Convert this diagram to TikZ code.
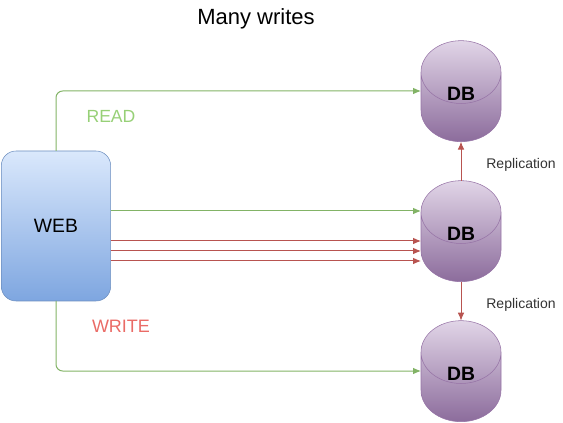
\documentclass[tikz,border=0pt]{standalone}
\usepackage{fontspec}
\setmainfont{Liberation Sans}
\usetikzlibrary{shapes.geometric, arrows.meta, positioning}
\definecolor{readcol}{HTML}{82B366}
\definecolor{writecol}{HTML}{B85450}
\definecolor{readtext}{HTML}{97D077}
\definecolor{writetext}{HTML}{EA6B66}
\definecolor{webline}{HTML}{6C8EBF}
\definecolor{webtop}{HTML}{DAE8FC}
\definecolor{webbot}{HTML}{7EA6E0}
\definecolor{dbline}{HTML}{9673A6}
\definecolor{dbtop}{HTML}{E1D5E7}
\definecolor{dbbot}{HTML}{8C6C9C}
\newcommand{\dbname}{\raisebox{4.75pt}[0pt][0pt]{DB}}

\begin{document}
\begin{tikzpicture}[x=0.75pt, y=-0.75pt, >={Latex[length=6pt,width=5pt]}, node distance=105pt]
	\tikzstyle{web} = [draw=webline, rounded corners=11pt, minimum width=82pt, minimum height=112.5pt, inner sep=0pt, outer sep=0pt, top color=webtop, bottom color=webbot, font=\fontsize{14.5}{16}\selectfont]
	\tikzstyle{db} = [draw=dbline, cylinder, shape border rotate=90, aspect=2.25, minimum width=60pt, minimum height=75.75pt, inner sep=0pt, outer sep=0pt, top color=dbtop, bottom color=dbbot, font=\fontsize{14.5}{16}\selectfont\bfseries]
	\tikzstyle{rlabel} = [text=black!80, font=\fontsize{10.5}{12}\selectfont]

	\useasboundingbox (0,0) rectangle (563,423);

	\path
		node[web] (web) at (56,226) {WEB}
		node[db] (db2) at (461,247) {\dbname}
		node[db, above of=db2] (db1) {\dbname}
		node[db, below of=db2] (db3) {\dbname}

		node (title) at (256,19) {\fontsize{16.5}{18}\selectfont Many writes}
		node[text=readtext] (read) at (111,116) {\fontsize{13.2}{15}\selectfont READ}
		node[text=writetext] (write) at (121,326) {\fontsize{13.5}{15}\selectfont WRITE}
		node[rlabel] (rep1) at (521,165) {Replication}
		node[rlabel] (rep2) at (521,305) {Replication}
	;

	\path[->, line width=0.75pt]
		(web.north) edge[readcol, rounded corners=5pt, to path={|- (\tikztotarget)}] ([yshift=12pt]db1.west)
		(web.south) edge[readcol, rounded corners=5pt, to path={|- (\tikztotarget)}] ([yshift=12pt]db3.west)
		([yshift=11.25pt]web.east) edge[readcol] ([yshift=27pt]db2.west)
		([yshift=-11.25pt]web.east) edge[writecol] ([yshift=4.5pt]db2.west)
		([yshift=-18.75pt]web.east) edge[writecol] ([yshift=-3pt]db2.west)
		([yshift=-26.25pt]web.east) edge[writecol] ([yshift=-10.5pt]db2.west)
		(db2.top) edge[writecol] (db1.bottom)
		(db2.bottom) edge[writecol] (db3.top)
	;
\end{tikzpicture}
\end{document}
